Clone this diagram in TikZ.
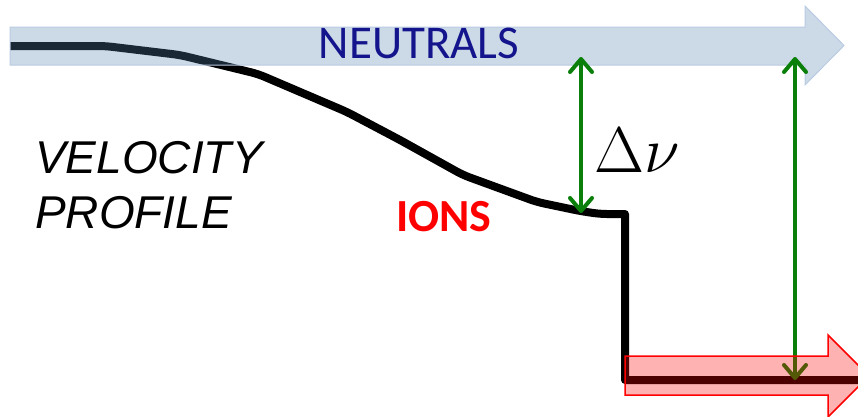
\documentclass[tikz,border=0pt]{standalone}
\usepackage{fontspec}
\newfontfamily\arialfont{Liberation Sans}
\newfontfamily\calfont{Carlito}
\usetikzlibrary{arrows.meta}
\definecolor{neutralfill}{RGB}{87,132,178}
\definecolor{neutraledge}{RGB}{185,203,226}
\definecolor{neutraltext}{RGB}{20,20,140}
\definecolor{arrowgreen}{RGB}{10,128,10}
\tikzset{
  profileline/.style={line width=8pt, black, line join=round},
  fatarrowblue/.style={fill=neutralfill, fill opacity=0.3, draw=neutraledge, line width=1pt},
  fatarrowred/.style={fill=red, fill opacity=0.3, draw=red, draw opacity=1, line width=1.5pt},
  deltaarrow/.style={draw=arrowgreen, line width=4pt,
    {Straight Barb[length=13pt,width=22pt,round]}-{Straight Barb[length=13pt,width=22pt,round]}},
  bigital/.style={font=\arialfont\itshape\fontsize{46}{55}\selectfont, anchor=base west, inner sep=0pt},
}
\begin{document}
\begin{tikzpicture}[x=1pt,y=-1pt]
\useasboundingbox (0,0) rectangle (858,416);
\clip (0,0) rectangle (858,416);
% velocity profile line
\draw[profileline, rounded corners=7pt]
  (10,46) -- (105,46) -- (180,55) -- (258,74) -- (347,112) -- (400,140) -- (463,175) -- (537,202) -- (580,211)
  -- (600,214) [sharp corners] -- (625,214) -- (625,380) -- (870,380);
% neutrals arrow
\draw[fatarrowblue] (10,27) -- (805,27) -- (805,6) -- (844,45.5) -- (805,85) -- (805,65) -- (10,65) -- cycle;
\node[font=\calfont\fontsize{47}{56}\selectfont, text=neutraltext, anchor=base, inner sep=0pt] (neutrals) at (419,58) {NEUTRALS};
% green arrows
\coordinate (a1top) at (581,57);
\coordinate (a1bot) at (581,213);
\coordinate (a2top) at (795,57);
\coordinate (a2bot) at (795,380);
\draw[deltaarrow] (a1top) -- (a1bot);
\draw[deltaarrow] (a2top) -- (a2bot);
% ions arrow
\draw[fatarrowred] (625,356) -- (828,356) -- (828,335) -- (869,376) -- (828,417) -- (828,395) -- (625,395) -- cycle;
% labels
\node[bigital] (velocity) at (35,173) {VELOCITY};
\node[bigital] (profile) at (35,228) {PROFILE};
\node[font=\calfont\bfseries\fontsize{46}{55}\selectfont, text=red, anchor=base west, inner sep=0pt] (ions) at (396,231) {IONS};
\node[anchor=base west, inner sep=0pt] (dv) at (594,172) {\scalebox{2.6}{\Huge$\Delta\nu$}};
\end{tikzpicture}
\end{document}
